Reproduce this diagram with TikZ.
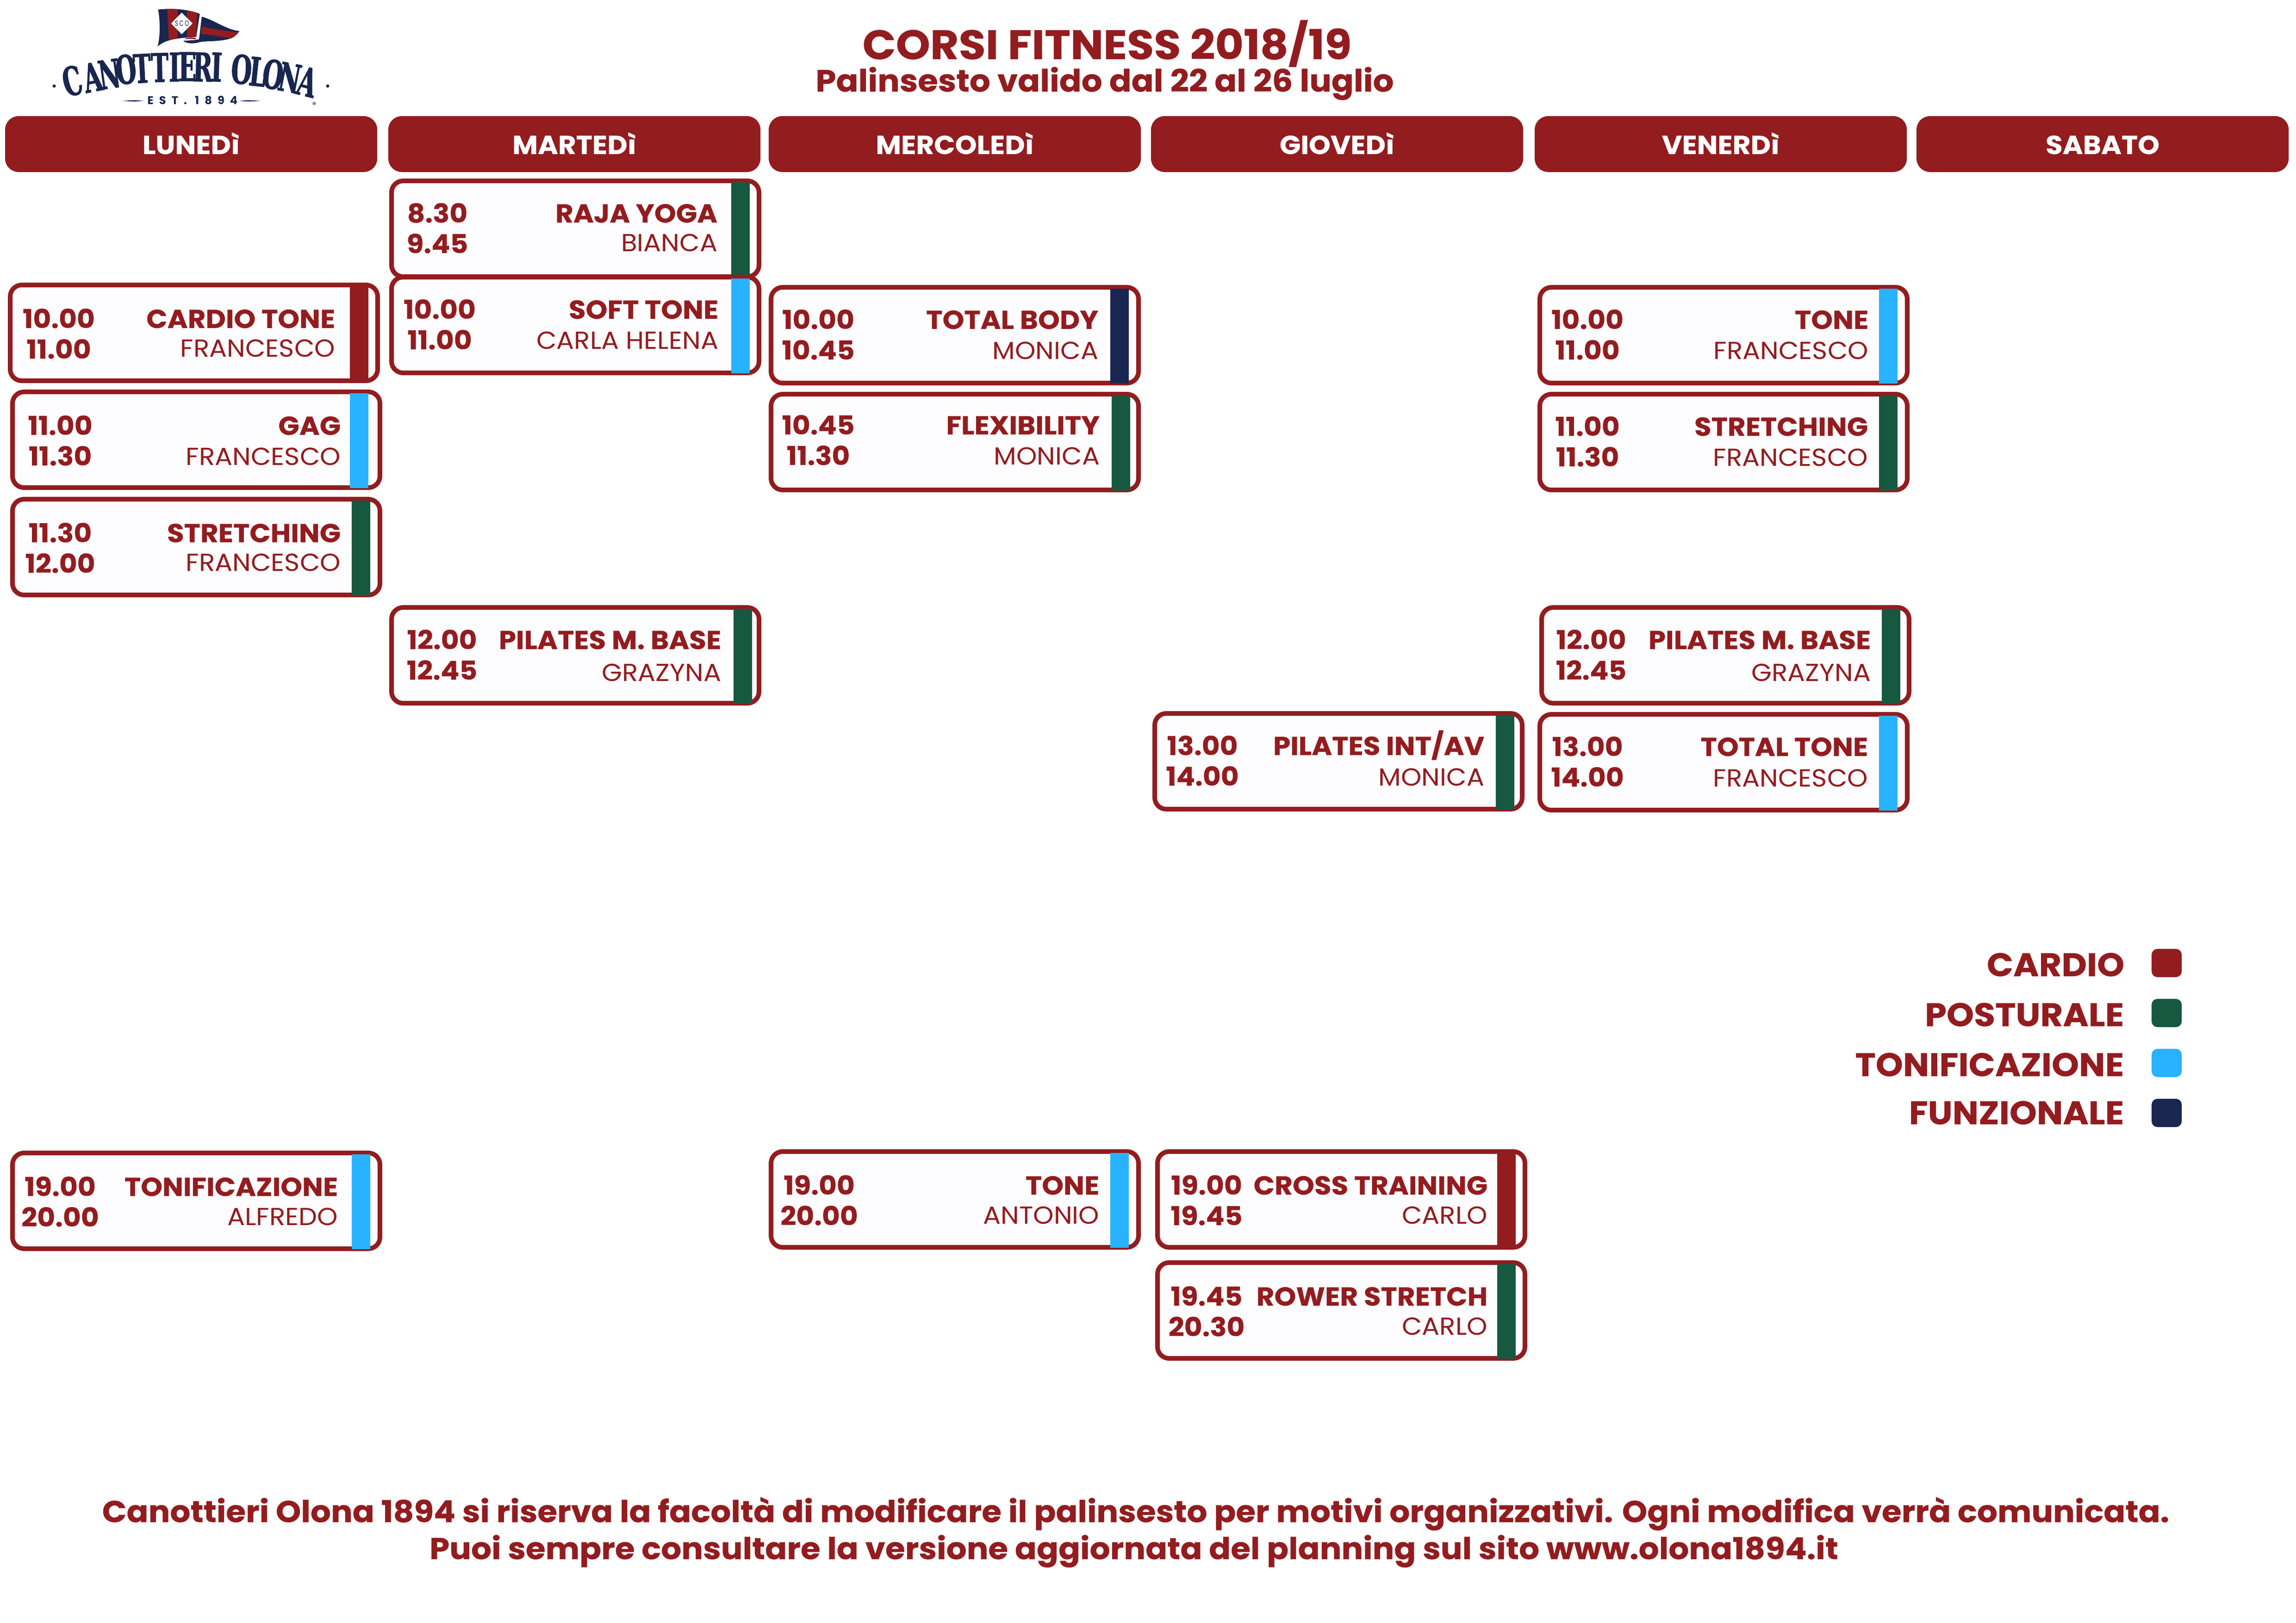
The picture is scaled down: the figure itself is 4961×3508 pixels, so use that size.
\documentclass[tikz,border=0pt]{standalone}
\usepackage{fontspec}
\setmainfont[FakeStretch=1.06,BoldFeatures={FakeBold=0.35}]{Poppins}
\newfontfamily\logofont[FakeStretch=0.6,BoldFeatures={FakeBold=1.2}]{DejaVu Serif}
\newfontfamily\estfont[LetterSpace=50]{Poppins}
\newfontfamily\scofont[FakeStretch=0.7]{Poppins}
\definecolor{wine}{HTML}{931C1F}
\definecolor{navy}{HTML}{19264F}
\definecolor{pgreen}{HTML}{175840}
\definecolor{tblue}{HTML}{29B2FF}
\definecolor{cardin}{HTML}{FDFCFF}
\tikzset{x=0.24pt,y=-0.24pt,
 dayhead/.style={fill=wine,rounded corners=7pt,draw=none,inner sep=0pt,outer sep=0pt,anchor=north west,minimum width=193pt,minimum height=29pt},
 cardbox/.style={draw=wine,fill=cardin,line width=2.4pt,rounded corners=6pt,inner sep=0pt,outer sep=0pt,anchor=north west,minimum width=190.56pt,minimum height=49.68pt},
 timetxt/.style={text=wine,font=\bfseries\fontsize{13.5}{13.5}\selectfont,anchor=base,inner sep=0pt},
 titletxt/.style={text=wine,font=\bfseries\fontsize{13.5}{13.5}\selectfont,anchor=base east,inner sep=0pt},
 whotxt/.style={text=wine,font=\fontsize{12.8}{12.8}\selectfont,anchor=base east,inner sep=0pt},
 legendtxt/.style={text=wine,font=\bfseries\fontsize{17}{17}\selectfont,anchor=base east,inner sep=0pt},
 headtxt/.style={text=white,font=\bfseries\fontsize{13.5}{13.5}\selectfont,anchor=base,inner sep=0pt},
 foottxt/.style={text=wine,font=\bfseries\fontsize{15.7}{15.7}\selectfont,anchor=base,inner sep=0pt},
 logoletter/.style={font=\logofont\bfseries\fontsize{20.5}{20.5}\selectfont,anchor=center,inner sep=0pt},
 legendsq/.style={rounded corners=3pt,draw=none,inner sep=0pt,outer sep=0pt,anchor=north west,minimum width=15.6pt,minimum height=14.64pt},
}
\begin{document}
\begin{tikzpicture}
\useasboundingbox[fill=white] (0,0) rectangle (4961,3508);
% Logo flag
\begin{scope}[shift={(200,10)},x=0.08pt,y=-0.08pt]
 \begin{scope}
  \clip (425,32) .. controls (520,22) and (620,30) .. (695,60) -- (672,210) .. controls (600,215) and (480,215) .. (422,272) .. controls (440,200) and (438,100) .. (425,32) -- cycle;
  \fill[navy] (400,0) rectangle (720,290);
  \fill[wine] (482,0) -- (552,0) -- (552,290) -- (498,290) -- cycle;
  \fill[wine] (612,0) -- (680,0) -- (668,290) -- (614,290) -- cycle;
 \end{scope}
 \fill[white] (578,52) -- (648,122) -- (578,192) -- (509,122) -- cycle;
 \node[text=navy,font=\scofont\fontsize{4}{4}\selectfont,inner sep=0pt] (sco) at (580,122) {S\,C\,O};
 \fill[navy] (708,78) .. controls (800,105) and (860,160) .. (952,172) .. controls (930,205) and (900,222) .. (860,228) .. controls (800,240) and (740,235) .. (695,243) .. controls (660,255) and (610,255) .. (588,235) .. controls (620,232) and (660,232) .. (690,225) -- (708,78) -- cycle;
 \fill[wine] (707,142) .. controls (790,160) and (860,170) .. (945,180) .. controls (930,200) and (915,212) .. (900,218) .. controls (830,210) and (770,195) .. (703,190) -- cycle;
 \fill[wine] (600,220) .. controls (620,213) and (650,212) .. (672,218) -- (668,225) .. controls (645,222) and (620,222) .. (600,224) -- cycle;
\end{scope}
% Logo lettering
\foreach \nm/\lx/\ly/\lr/\lt in {a/156/175/14/C,b/200/167/11/A,c/236/160/8/N,d/272/150/6/O,e/307/148/3/T,f/345/146/1/T,g/377/145/0/I,h/405/144/0/E,i/438/145/-1/R,j/468/145/-2/I,k/522/150/-4/O,l/557/155/-6/L,m/590/161/-8/O,n/626/168/-11/N,o/664/177/-14/A}{
 \node[logoletter,text=navy,rotate=\lr] (lt\nm) at (\lx,\ly) {\lt};
}
\fill[navy] (117,186) circle[radius=3.5];
\fill[navy] (708,186) circle[radius=3.5];
\node[text=navy,font=\bfseries\fontsize{5.8}{5.8}\selectfont\estfont,anchor=base,inner sep=0pt] (est) at (416,226) {EST. 1894};
\fill[navy] (263,218) -- (290,216.5) -- (312,218) -- (290,219.5) -- cycle;
\fill[navy] (515,218) -- (537,216.5) -- (565,218) -- (537,219.5) -- cycle;
\node[text=navy,font=\fontsize{4}{4}\selectfont,inner sep=0pt] (reg) at (679,227) {®};
% Titles
\node[text=wine,font=\bfseries\fontsize{21.4}{21.4}\selectfont,anchor=base,inner sep=0pt] (title) at (2392,128) {CORSI FITNESS 2018/19};
\node[text=wine,font=\bfseries\fontsize{16}{16}\selectfont,anchor=base,inner sep=0pt] (subtitle) at (2387,198) {Palinsesto valido dal 22 al 26 luglio};
% Day headers
\foreach \nm/\hx/\lb in {lun/11/LUNEDì,mar/839/MARTEDì,mer/1661/MERCOLEDì,gio/2487/GIOVEDì,ven/3316/VENERDì,sab/4141/SABATO}{
 \node[dayhead] (\nm) at (\hx,251) {};
 \node[headtxt] (\nm txt) at (\hx+402,333) {\lb};
}
% Cards: name/left/top/bar colour/bar left/time centre/text right/bold shift/teacher shift/time1/time2/title/teacher
\foreach \nm/\L/\T/\C/\B/\M/\R/\D/\W/\ta/\tb/\ti/\wh in {
 raja/841/386/pgreen/1580/945/1551/-3/-3/8.30/9.45/RAJA YOGA/BIANCA,
 soft/841/594/tblue/1580/950/1553/-3/0/10.00/11.00/SOFT TONE/CARLA HELENA,
 cardio/17/611/wine/756/127/725/0/0/10.00/11.00/CARDIO TONE/FRANCESCO,
 gag/22/842/tblue/756/130/737/0/3/11.00/11.30/GAG/FRANCESCO,
 stre/22/1074/pgreen/760/130/737/0/0/11.30/12.00/STRETCHING/FRANCESCO,
 pilm/841/1308/pgreen/1585/955/1559/-3/3/12.00/12.45/PILATES M. BASE/GRAZYNA,
 tbody/1661/616/navy/2399/1768/2374/-3/0/10.00/10.45/TOTAL BODY/MONICA,
 flex/1661/847/pgreen/2402/1768/2377/-6/-3/10.45/11.30/FLEXIBILITY/MONICA,
 toneven/3322/616/tblue/4060/3430/4038/-3/0/10.00/11.00/TONE/FRANCESCO,
 streven/3322/847/pgreen/4060/3430/4037/-3/0/11.00/11.30/STRETCHING/FRANCESCO,
 pilven/3326/1308/pgreen/4066/3438/4043/-3/3/12.00/12.45/PILATES M. BASE/GRAZYNA,
 ttone/3322/1539/tblue/4060/3430/4037/-3/0/13.00/14.00/TOTAL TONE/FRANCESCO,
 pilint/2490/1537/pgreen/3232/2598/3208/-3/0/13.00/14.00/{PILATES INT/AV}/MONICA,
 tonif/22/2487/tblue/760/130/731/0/0/19.00/20.00/TONIFICAZIONE/ALFREDO,
 toneme/1661/2484/tblue/2399/1770/2376/0/0/19.00/20.00/TONE/ANTONIO,
 cross/2496/2484/wine/3235/2607/3215/0/0/19.00/19.45/CROSS TRAINING/CARLO,
 rower/2496/2724/pgreen/3235/2607/3215/0/0/19.45/20.30/ROWER STRETCH/CARLO}{
 \node[cardbox] (\nm) at (\L+5,\T+5) {};
 \fill[\C] (\B,\T+8) rectangle (\B+40,\T+213);
 \node[timetxt] (\nm a) at (\M,\T+98+\D) {\ta};
 \node[timetxt] (\nm b) at (\M,\T+164+\D) {\tb};
 \node[titletxt] (\nm c) at (\R,\T+98+\D) {\ti};
 \node[whotxt] (\nm d) at (\R,\T+161+\W) {\wh};
}
% Legend
\foreach \nm/\C/\sy/\by/\lx/\lb in {cardio/wine/2051/2110/4591/CARDIO,post/pgreen/2159/2218/4590/POSTURALE,toni/tblue/2267/2326/4590/TONIFICAZIONE,funz/navy/2375/2430/4590/FUNZIONALE}{
 \node[legendsq,fill=\C] (sq\nm) at (4649,\sy) {};
 \node[legendtxt] (lg\nm) at (\lx,\by) {\lb};
}
% Footer
\node[foottxt] (foota) at (2454,3290) {Canottieri Olona 1894 si riserva la facoltà di modificare il palinsesto per motivi organizzativi. Ogni modifica verrà comunicata.};
\node[foottxt] (footb) at (2450,3370) {Puoi sempre consultare la versione aggiornata del planning sul sito www.olona1894.it};
\end{tikzpicture}
\end{document}
